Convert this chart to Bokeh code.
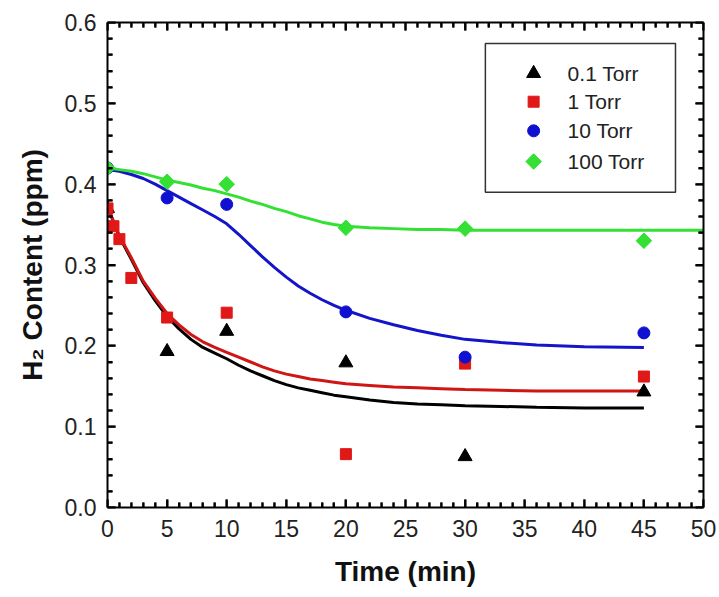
import math

from bokeh.plotting import figure
from bokeh.models import FixedTicker, Range1d, PrintfTickFormatter, LinearAxis
from bokeh.core.properties import value
from bokeh.embed import file_html
from bokeh.resources import INLINE

# Measured hydrogen content vs. exposure time at four pressures
t_01 = [0, 5, 10, 20, 30, 45]
h2_01 = [0.370, 0.193, 0.218, 0.179, 0.063, 0.143]

t_1 = [0, 0.5, 1, 2, 5, 10, 20, 30, 45]
h2_1 = [0.370, 0.348, 0.332, 0.284, 0.235, 0.241, 0.066, 0.178, 0.162]

t_10 = [0, 5, 10, 20, 30, 45]
h2_10 = [0.420, 0.383, 0.375, 0.242, 0.186, 0.216]

t_100 = [0, 5, 10, 20, 30, 45]
h2_100 = [0.420, 0.403, 0.400, 0.346, 0.345, 0.330]

# Fitted trend curves
fit_t = [0, 1, 2, 3, 4, 5, 6, 7, 8, 9, 10, 11, 12, 13, 14, 15, 16, 17, 18, 19,
         20, 22, 24, 26, 28, 30, 33, 36, 40, 45]
fit_01 = [0.372, 0.335, 0.307, 0.278, 0.256, 0.236, 0.221, 0.208, 0.198, 0.191,
          0.184, 0.176, 0.169, 0.163, 0.157, 0.152, 0.148, 0.145, 0.142, 0.139,
          0.137, 0.133, 0.130, 0.128, 0.127, 0.126, 0.125, 0.124, 0.123, 0.123]
fit_1 = [0.372, 0.336, 0.309, 0.280, 0.259, 0.240, 0.226, 0.214, 0.205, 0.198,
         0.192, 0.186, 0.180, 0.174, 0.169, 0.165, 0.162, 0.159, 0.157, 0.155,
         0.153, 0.151, 0.149, 0.148, 0.147, 0.146, 0.145, 0.144, 0.144, 0.144]
fit_10 = [0.418, 0.416, 0.412, 0.407, 0.400, 0.392, 0.384, 0.376, 0.368, 0.360,
          0.351, 0.338, 0.324, 0.310, 0.297, 0.285, 0.274, 0.265, 0.257, 0.250,
          0.244, 0.234, 0.226, 0.219, 0.213, 0.208, 0.204, 0.201, 0.199, 0.198]
fit_t100 = fit_t + [50]
fit_100 = [0.420, 0.418, 0.416, 0.413, 0.409, 0.405, 0.402, 0.399, 0.395, 0.392,
           0.388, 0.384, 0.379, 0.375, 0.370, 0.366, 0.361, 0.357, 0.353, 0.350,
           0.348, 0.346, 0.345, 0.344, 0.344, 0.343, 0.343, 0.343, 0.343, 0.343, 0.343]

labels = ["0.1 Torr", "1 Torr", "10 Torr", "100 Torr"]
x_ticks = [0, 5, 10, 15, 20, 25, 30, 35, 40, 45, 50]
y_ticks = [0.0, 0.1, 0.2, 0.3, 0.4, 0.5, 0.6]
X0, X1 = 0, 50
Y0, Y1 = 0.0, 0.6
FONT = "Liberation Sans"

W, H = 719, 597
BL, BR, BT, BB = 107, 16, 22, 90
FRAME_W = W - BL - BR
FRAME_H = H - BT - BB

p = figure(width=W, height=H, output_backend="svg", toolbar_location=None,
           x_range=Range1d(X0, X1), y_range=Range1d(Y0, Y1),
           min_border_left=BL, min_border_right=BR,
           min_border_top=BT, min_border_bottom=BB)
p.xgrid.grid_line_color = None
p.ygrid.grid_line_color = None
p.outline_line_color = None


def minor_between(ticks, n=5):
    step = (ticks[1] - ticks[0]) / n
    return [round(ticks[0] + i * step, 6) for i in range((len(ticks) - 1) * n + 1)
            if i % n]


x_minor = minor_between(x_ticks)
y_minor = minor_between(y_ticks)

# Trend lines
p.line(fit_t, fit_01, line_color="black", line_width=3)
p.line(fit_t, fit_1, line_color="#d01515", line_width=3)
p.line(fit_t, fit_10, line_color="#1414c8", line_width=3)
p.line(fit_t100, fit_100, line_color="#33e033", line_width=3)

# Data points
styles = [
    dict(marker="triangle", size=14, color="black", angle=0.0),
    dict(marker="square", size=11, color="#e01818", angle=0.0),
    dict(marker="circle", size=12, color="#1010d0", angle=0.0),
    dict(marker="square", size=11, color="#33e033", angle=math.pi / 4),
]
series = [(t_01, h2_01), (t_1, h2_1), (t_10, h2_10), (t_100, h2_100)]
for (xs, ys), st in zip(series, styles):
    p.scatter(xs, ys, marker=st["marker"], size=st["size"], angle=st["angle"],
              fill_color=st["color"], line_color=st["color"])

# Legend box (placed in data space, upper right)
lg_left, lg_right, lg_top, lg_bottom = 31.7, 47.65, 0.574, 0.390
p.quad(left=[lg_left], right=[lg_right], top=[lg_top], bottom=[lg_bottom],
       fill_color="white", line_color="#333333", line_width=1.5)
row_y = [0.537, 0.502, 0.466, 0.428]
for yy, st in zip(row_y, styles):
    p.scatter([35.75], [yy], marker=st["marker"], size=st["size"], angle=st["angle"],
              fill_color=st["color"], line_color=st["color"])
p.text(x=[38.6] * len(labels), y=row_y, text=labels, text_font=value(FONT),
       text_font_size="21px", text_color="#222222", text_baseline="middle",
       text_align="left")

# Inward tick marks on all four sides; lengths given in pixels
dx = (X1 - X0) / FRAME_W
dy = (Y1 - Y0) / FRAME_H
for xs, px in ((x_ticks, 8), (x_minor, 5)):
    n = len(xs)
    p.segment(x0=xs, y0=[Y0] * n, x1=xs, y1=[Y0 + px * dy] * n,
              line_color="black", line_width=2)
    p.segment(x0=xs, y0=[Y1] * n, x1=xs, y1=[Y1 - px * dy] * n,
              line_color="black", line_width=2)
for ys, px in ((y_ticks, 8), (y_minor, 5)):
    n = len(ys)
    p.segment(x0=[X0] * n, y0=ys, x1=[X0 + px * dx] * n, y1=ys,
              line_color="black", line_width=2)
    p.segment(x0=[X1] * n, y0=ys, x1=[X1 - px * dx] * n, y1=ys,
              line_color="black", line_width=2)


def style_axis(ax, show_labels=True):
    ax.axis_line_color = "black"
    ax.axis_line_width = 2
    ax.major_tick_in = 8
    ax.major_tick_out = 0
    ax.minor_tick_in = 5
    ax.minor_tick_out = 0
    ax.major_tick_line_color = "black"
    ax.minor_tick_line_color = "black"
    ax.major_tick_line_width = 2
    ax.minor_tick_line_width = 2
    ax.major_label_text_font = FONT
    ax.major_label_text_font_size = "23px" if show_labels else "0px"
    ax.major_label_text_color = "#222222" if show_labels else None
    ax.axis_label_text_font = FONT
    ax.axis_label_text_font_style = "bold"
    ax.axis_label_text_font_size = "28px"
    ax.axis_label_text_color = "#111111"


p.xaxis.ticker = FixedTicker(ticks=x_ticks, minor_ticks=x_minor)
p.yaxis.ticker = FixedTicker(ticks=y_ticks, minor_ticks=y_minor)
p.yaxis.formatter = PrintfTickFormatter(format="%.1f")
p.xaxis.axis_label = "Time (min)"
p.yaxis.axis_label = "H\u2082 Content (ppm)"
for ax in p.xaxis + p.yaxis:
    style_axis(ax)
p.xaxis.major_label_standoff = 12
p.yaxis.major_label_standoff = 11
p.xaxis.axis_label_standoff = 16
p.yaxis.axis_label_standoff = 14

# Mirror axes closing the frame on top and right
top = LinearAxis(ticker=FixedTicker(ticks=x_ticks, minor_ticks=x_minor))
right = LinearAxis(ticker=FixedTicker(ticks=y_ticks, minor_ticks=y_minor))
for ax in (top, right):
    style_axis(ax, show_labels=False)
p.add_layout(top, "above")
p.add_layout(right, "right")

open("out.html", "w").write(file_html(p, INLINE))
